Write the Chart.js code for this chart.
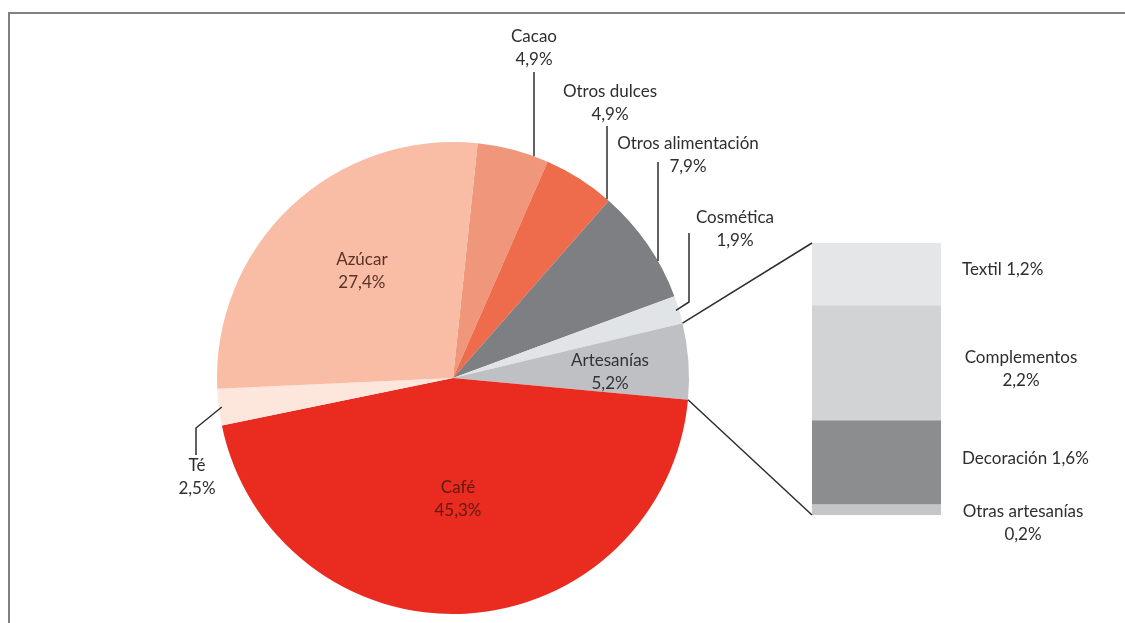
<!DOCTYPE html>
<html>
<head>
<meta charset="utf-8">
<script src="https://cdn.jsdelivr.net/npm/chart.js@4/dist/chart.umd.min.js"></script>
<style>
  html, body { margin: 0; padding: 0; background: #fff; }
  #wrap { position: relative; width: 1125px; height: 623px; overflow: hidden; }
  #frame { position: absolute; left: 8px; top: 12px; width: 1200px; height: 700px;
           border-top: 2px solid #808080; border-left: 2px solid #808080; }
  canvas { position: absolute; left: 0; top: 0; }
</style>
</head>
<body>
<div id="wrap">
  <div id="frame"></div>
  <canvas id="pie" width="1125" height="623"></canvas>
  <canvas id="bar" width="1125" height="623"></canvas>
</div>
<script>
// ---------- data ----------
const categories = ['Cacao', 'Otros dulces', 'Otros alimentación', 'Cosmética', 'Artesanías', 'Café', 'Té', 'Azúcar'];
const shares = [4.9, 4.9, 7.9, 1.9, 5.2, 45.3, 2.5, 27.4];
const subCategories = ['Otras artesanías', 'Decoración', 'Complementos', 'Textil'];
const subShares = [0.2, 1.6, 2.2, 1.2];

// ---------- styles ----------
const sliceColors = ['#f0967a', '#ee6c4b', '#7d7f82', '#e1e4e6', '#bec0c4', '#ea2b20', '#fde6dc', '#f9bca4'];
const subColors = ['#c4c6c8', '#8c8d8f', '#d2d3d5', '#e5e6e7'];
const FONT = '17px Lato, "Open Sans", sans-serif';
const TEXT = '#2e2e2e';
const fmt = v => v.toFixed(1).replace('.', ',') + '%';

// label layout (positions only)
const insideLabels = {
  'Azúcar': { f: 0.60, color: '#5a3328', dx: 6, dy: -4 },
  'Café': { f: 0.53, color: '#5e1a12', dx: -2, dy: -4 },
  'Artesanías': { f: 0.65, color: '#333333', dx: 4, dy: 4 }
};
const outsideLabels = {
  'Cacao': { tx: 534, ty: 37, lx: 534, ly: 72, type: 'vertical' },
  'Otros dulces': { tx: 610, ty: 92, lx: 607, ly: 126, type: 'vertical' },
  'Otros alimentación': { tx: 688, ty: 144, lx: 658, ly: 162, type: 'vertical' },
  'Cosmética': { tx: 735, ty: 218, lx: 689, ly: 233, ly2: 302, type: 'elbow' },
  'Té': { tx: 197, ty: 466, lx: 196, ly: 455, ly2: 428, type: 'elbow' }
};

function drawText(ctx, lines, x, y, align, color) {
  ctx.save();
  ctx.font = FONT;
  ctx.fillStyle = color || TEXT;
  ctx.textAlign = align || 'center';
  ctx.textBaseline = 'middle';
  lines.forEach((t, i) => ctx.fillText(t, x, y + i * 23));
  ctx.restore();
}

const pieLabels = {
  id: 'pieLabels',
  afterDatasetsDraw(chart) {
    const ctx = chart.ctx;
    const arcs = chart.getDatasetMeta(0).data;
    ctx.save();
    ctx.strokeStyle = '#2e2e2e';
    ctx.lineWidth = 1.5;
    arcs.forEach((arc, i) => {
      const name = categories[i];
      const mid = (arc.startAngle + arc.endAngle) / 2;
      const r = arc.outerRadius;
      if (insideLabels[name]) {
        const L = insideLabels[name];
        const x = arc.x + Math.cos(mid) * r * L.f + L.dx;
        const y = arc.y + Math.sin(mid) * r * L.f + L.dy;
        drawText(ctx, [name, fmt(shares[i])], x, y - 11, 'center', L.color);
      } else if (outsideLabels[name]) {
        const L = outsideLabels[name];
        drawText(ctx, [name, fmt(shares[i])], L.tx, L.ty, 'center', TEXT);
        ctx.beginPath();
        if (L.type === 'vertical') {
          const dx = L.lx - arc.x;
          const ey = arc.y - Math.sqrt(Math.max(0, r * r - dx * dx));
          ctx.moveTo(L.lx, L.ly);
          ctx.lineTo(L.lx, ey);
        } else {
          const ex = arc.x + Math.cos(mid) * (r - 3);
          const ey = arc.y + Math.sin(mid) * (r - 3);
          ctx.moveTo(L.lx, L.ly);
          ctx.lineTo(L.lx, L.ly2);
          ctx.lineTo(ex, ey);
        }
        ctx.stroke();
      }
    });
    ctx.restore();
  }
};

const pieChart = new Chart(document.getElementById('pie'), {
  type: 'pie',
  data: {
    labels: categories,
    datasets: [{ data: shares, backgroundColor: sliceColors, borderWidth: 0 }]
  },
  options: {
    responsive: false,
    animation: false,
    devicePixelRatio: 1,
    rotation: 6,
    layout: { padding: { left: 217, right: 436, top: 142, bottom: 9 } },
    plugins: { legend: { display: false }, tooltip: { enabled: false } }
  },
  plugins: [pieLabels]
});

const barLabels = {
  id: 'barLabels',
  afterDatasetsDraw(chart) {
    const ctx = chart.ctx;
    const segs = chart.data.datasets.map((d, i) => chart.getDatasetMeta(i).data[0]);
    segs.forEach((el, i) => {
      const cy = (el.y + el.base) / 2;
      const name = subCategories[i];
      const val = fmt(subShares[i]);
      const right = el.x + el.width / 2;
      if (name === 'Textil') drawText(ctx, [name + ' ' + val], right + 21, cy - 5, 'left');
      else if (name === 'Decoración') drawText(ctx, [name + ' ' + val], right + 21, cy - 4, 'left');
      else if (name === 'Complementos') drawText(ctx, [name, val], right + 80, cy - 6, 'center');
      else drawText(ctx, [name, val], right + 82, cy + 2, 'center');
    });
    // connectors from Artesanías slice to the bar
    const art = pieChart.getDatasetMeta(0).data[categories.indexOf('Artesanías')];
    const top = segs[segs.length - 1], bottom = segs[0];
    const left = top.x - top.width / 2;
    const p1 = { x: art.x + Math.cos(art.startAngle) * art.outerRadius, y: art.y + Math.sin(art.startAngle) * art.outerRadius };
    const p2 = { x: art.x + Math.cos(art.endAngle) * art.outerRadius, y: art.y + Math.sin(art.endAngle) * art.outerRadius };
    ctx.save();
    ctx.strokeStyle = '#2e2e2e';
    ctx.lineWidth = 1.5;
    ctx.beginPath();
    ctx.moveTo(p1.x, p1.y); ctx.lineTo(left, top.y);
    ctx.moveTo(p2.x, p2.y); ctx.lineTo(left, bottom.base);
    ctx.stroke();
    ctx.restore();
  }
};

const total = subShares.reduce((a, b) => a + b, 0);
new Chart(document.getElementById('bar'), {
  type: 'bar',
  data: {
    labels: ['Artesanías'],
    datasets: subCategories.map((name, i) => ({
      label: name, data: [subShares[i]], backgroundColor: subColors[i], borderWidth: 0,
      barPercentage: 1, categoryPercentage: 1
    }))
  },
  options: {
    responsive: false,
    animation: false,
    devicePixelRatio: 1,
    layout: { padding: { left: 812, right: 184, top: 243, bottom: 108 } },
    scales: {
      x: { stacked: true, display: false },
      y: { stacked: true, display: false, min: 0, max: total }
    },
    plugins: { legend: { display: false }, tooltip: { enabled: false } }
  },
  plugins: [barLabels]
});
</script>
</body>
</html>
